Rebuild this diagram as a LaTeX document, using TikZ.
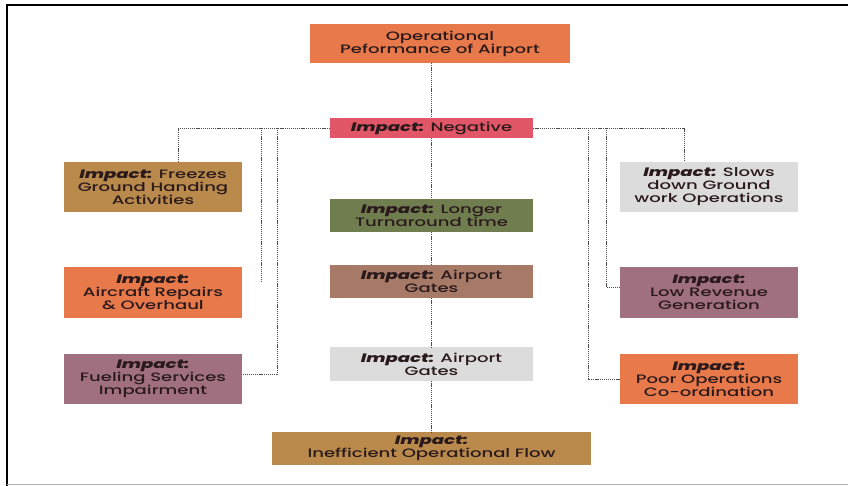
\documentclass[tikz,border=0pt]{standalone}
\usepackage{fontspec}
\setmainfont{Poppins}[UprightFont=* Medium, FakeStretch=1.48]
\usetikzlibrary{calc}

\definecolor{boxorange}{HTML}{E8794B}
\definecolor{boxred}{HTML}{E15767}
\definecolor{boxtan}{HTML}{B98A4C}
\definecolor{boxolive}{HTML}{6F7D4F}
\definecolor{boxbrown}{HTML}{A67A66}
\definecolor{boxgrey}{HTML}{DCDCDC}
\definecolor{boxmauve}{HTML}{A06F80}
\definecolor{txtdark}{HTML}{2A1A1C}

\newcommand{\imp}{\textbf{\textit{Impact:}}}

\begin{document}
\begin{tikzpicture}[x=1pt, y=-1pt,
    box/.style={fill=#1, text=txtdark, align=center, inner sep=0pt,
        font=\fontsize{12.2}{13}\selectfont},
    side/.style={box=#1, minimum width=178pt, minimum height=50pt},
    mid/.style={box=#1, minimum width=203pt, minimum height=33pt},
    link/.style={gray!60!black, line width=0.8pt, dash pattern=on 1.2pt off 0.9pt}]
    \useasboundingbox (0,0) rectangle (848,486);
    \draw[line width=2pt] (7,486) -- (7,5) -- (848,5);
    \draw[gray!60, line width=1pt] (7,484) -- (848,484);

    % top of the tree
    \node[box=boxorange, minimum width=260pt, minimum height=39pt] (perf) at (440,43.5) {Operational\\Peformance of Airport};
    \node[box=boxred, minimum width=203pt, minimum height=20pt] (neg) at (431.5,128) {\imp{} Negative};

    % centre column
    \node[mid=boxolive] (turn) at (431.5,215.5) {\imp{} Longer\\Turnaround time};
    \node[mid=boxbrown] (gateA) at (431.5,281.5) {\imp{} Airport\\Gates};
    \node[mid=boxgrey, minimum height=34pt] (gateB) at (431.5,364) {\imp{} Airport\\Gates};
    \node[box=boxtan, minimum width=319pt, minimum height=33pt] (flow) at (431.5,448.5) {\imp\\Inefficient Operational Flow};

    % left column
    \node[side=boxtan] (freeze) at (153,187) {\imp{} Freezes\\Ground Handing\\Activities};
    \node[side=boxorange, minimum height=51pt] (repair) at (153,292.5) {\imp\\Aircraft Repairs\\\& Overhaul};
    \node[side=boxmauve] (fuel) at (153,379) {\imp\\Fueling Services\\Impairment};

    % right column
    \node[side=boxgrey] (slow) at (709,187) {\imp{} Slows\\down Ground\\work Operations};
    \node[side=boxmauve, minimum height=51pt] (revenue) at (709,292.5) {\imp\\Low Revenue\\Generation};
    \node[side=boxorange] (poor) at (709,379) {\imp\\Poor Operations\\Co-ordination};

    \coordinate (lA) at (178,128);
    \coordinate (lB) at (261,128);
    \coordinate (lBend) at (261,283);
    \coordinate (lC) at (277,128);
    \coordinate (rA) at (684,128);
    \coordinate (rB) at (606,128);
    \coordinate (rC) at (588,128);

    \draw[link] (perf.south -| neg.north) -- (neg.north);
    \draw[link] (neg.south) -- (turn.north);
    \draw[link] (turn.south) -- (gateA.north);
    \draw[link] (gateA.south) -- (gateB.north);
    \draw[link] (gateB.south) -- (flow.north);

    \draw[link] (neg.west) -- (lA) -- (lA |- freeze.north);
    \draw[link] (lB) -- (lBend);
    \draw[link] (lC) |- ([yshift=5pt]fuel.east);

    \draw[link] (neg.east) -- (rA) -- (rA |- slow.north);
    \draw[link] (rB) |- ([yshift=5.5pt]revenue.west);
    \draw[link] (rC) |- (poor.west);
\end{tikzpicture}
\end{document}
